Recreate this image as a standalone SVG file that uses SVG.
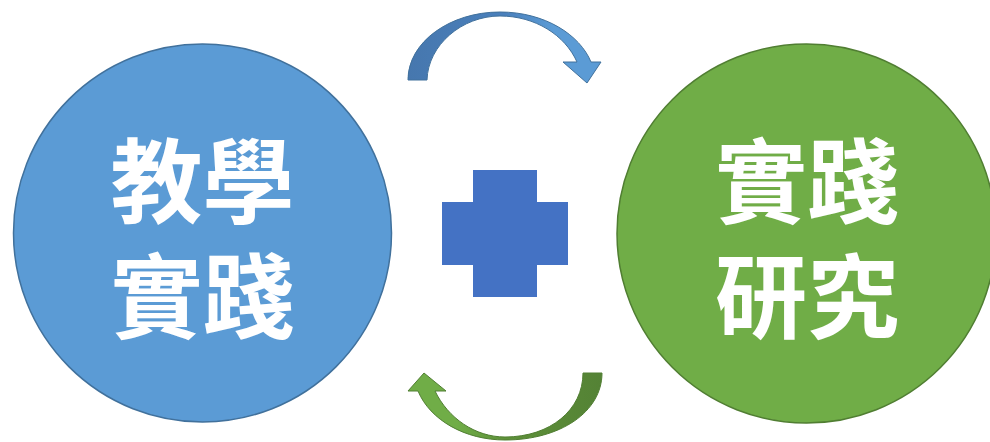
<svg xmlns="http://www.w3.org/2000/svg" width="990" height="442" viewBox="0 0 990 442">
  <defs>
    <linearGradient id="gBlue" x1="408" y1="0" x2="601" y2="0" gradientUnits="userSpaceOnUse">
      <stop offset="0" stop-color="#4677AE"/>
      <stop offset="0.5" stop-color="#4A80BC"/>
      <stop offset="0.75" stop-color="#5B9BD5"/>
      <stop offset="1" stop-color="#5B9BD5"/>
    </linearGradient>
    <linearGradient id="gGreen" x1="602" y1="0" x2="408" y2="0" gradientUnits="userSpaceOnUse">
      <stop offset="0" stop-color="#548235"/>
      <stop offset="0.5" stop-color="#5E9139"/>
      <stop offset="0.75" stop-color="#70AD47"/>
      <stop offset="1" stop-color="#70AD47"/>
    </linearGradient>
  </defs>
  <style>
    .lbl { font-family: "Noto Sans CJK TC", "Noto Sans CJK SC", sans-serif; font-weight: 700; font-size: 92px; fill: #FFFFFF; text-anchor: middle; }
  </style>
  <rect width="990" height="442" fill="#FFFFFF"/>
  <g id="node-teaching">
    <circle cx="202.5" cy="233" r="189" fill="#5B9BD5" stroke="#41719C" stroke-width="1.5"/>
    <text class="lbl" x="202.5" y="216"><tspan x="202.5" y="216">教學</tspan><tspan x="202.5" y="331">實踐</tspan></text>
  </g>
  <g id="node-research">
    <circle cx="806.5" cy="233.5" r="189.5" fill="#70AD47" stroke="#507E32" stroke-width="1.5"/>
    <text class="lbl" x="807" y="216"><tspan x="807" y="216">實踐</tspan><tspan x="807" y="331">研究</tspan></text>
  </g>
  <g id="node-plus">
    <path d="M473,170 H537 V202 H568 V265 H537 V297 H473 V265 H442 V202 H473 Z" fill="#4472C4"/>
  </g>
  <g id="connectors">
    <path d="M408,80 C408,42 450,12 500,12 C545,12 580,35 591,62 L601,62 L587,83 L563,62 L577,62 C565,35 535,16 500,16 C462,16 428,45 427,80 Z" fill="url(#gBlue)" stroke="#41719C" stroke-width="1" stroke-linejoin="miter"/>
    <path d="M602,373 C602,412 560,440 505,440 C465,440 430,420 418,391 L408,391 L424,373 L446,391 L435,391 C448,418 475,437 505,437 C550,437 583,410 583,373 Z" fill="url(#gGreen)" stroke="#507E32" stroke-width="1" stroke-linejoin="miter"/>
  </g>
</svg>
